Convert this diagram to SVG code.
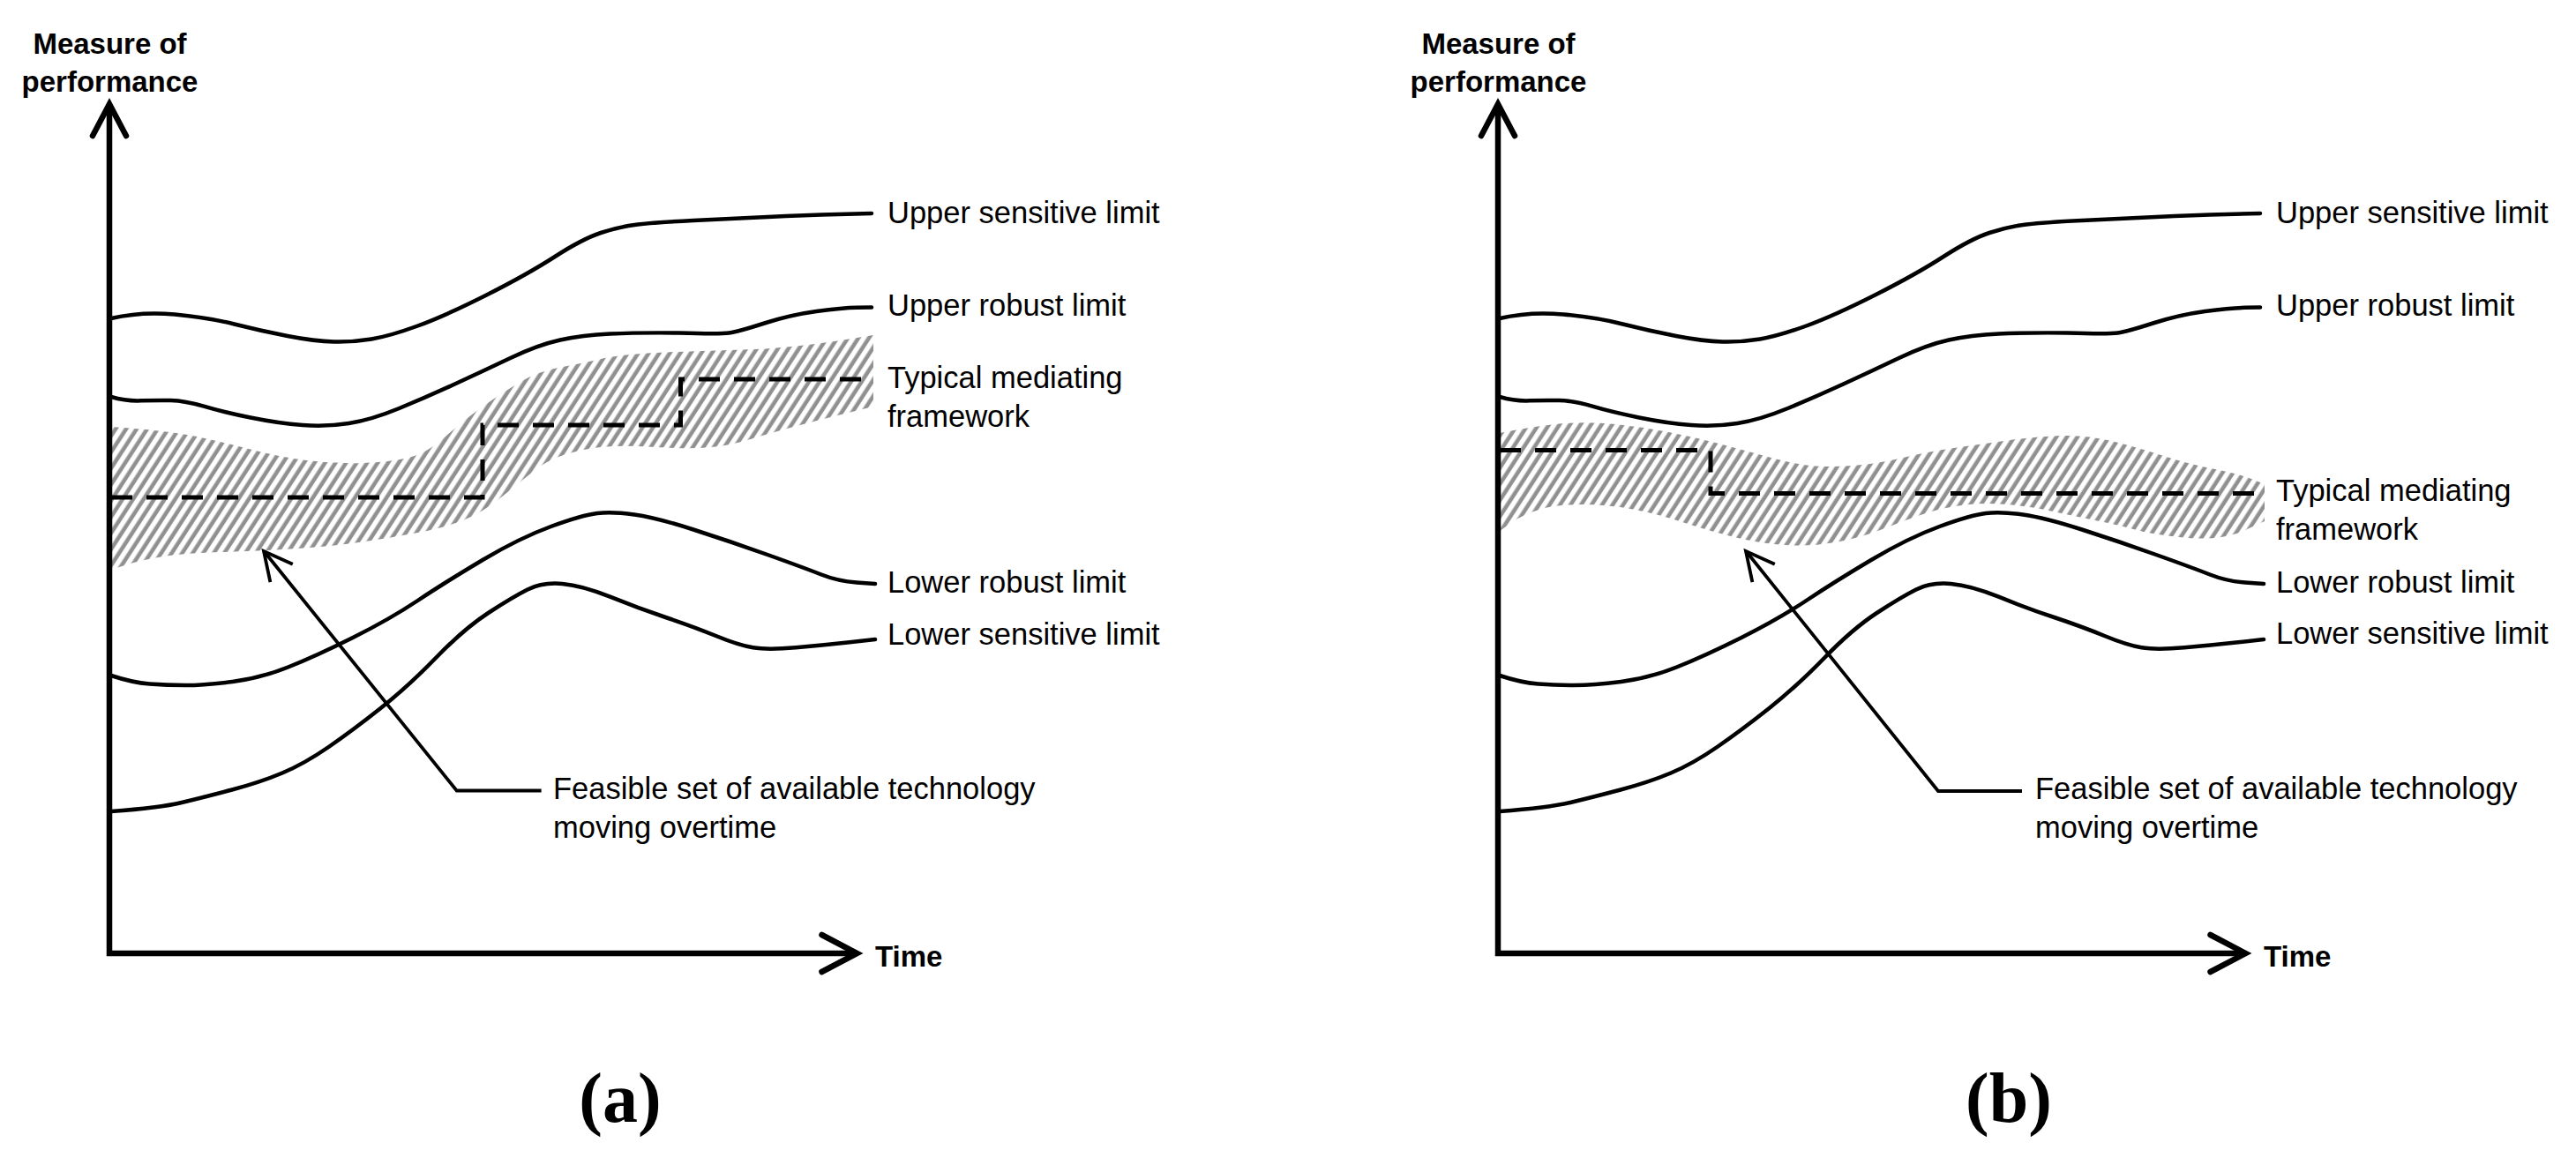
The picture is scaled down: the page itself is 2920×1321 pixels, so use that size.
<svg xmlns="http://www.w3.org/2000/svg" width="2920" height="1321" viewBox="0 0 2920 1321">
<defs>
<style>
.curve{fill:none;stroke:#000;stroke-width:4.5;stroke-linecap:round;stroke-linejoin:round}
.axis{fill:none;stroke:#000;stroke-width:6.5;stroke-linecap:round;stroke-linejoin:miter}
.dash{fill:none;stroke:#000;stroke-width:5;stroke-dasharray:24 16}
.leader{fill:none;stroke:#000;stroke-width:3.8;stroke-linejoin:miter}
.band{fill:url(#hatch);stroke:none}
.lbl{font-family:"Liberation Sans",Arial,sans-serif;font-size:34.5px;fill:#000}
.ttl{font-family:"Liberation Sans",Arial,sans-serif;font-size:33px;font-weight:bold;fill:#000}
.cap{font-family:"Liberation Serif","Times New Roman",serif;font-size:80px;font-weight:bold;fill:#000;text-anchor:middle}
</style>
<pattern id="hatch" patternUnits="userSpaceOnUse" width="10" height="10" patternTransform="rotate(33)">
<rect x="2.5" y="0" width="4.6" height="10" fill="#909090"/>
</pattern>
</defs>
<rect width="2920" height="1321" fill="#fff"/>

<!-- Panel (a) -->
<g id="panel-a">
<g id="band-a">
<path class="band" d="M126,484 Q189,488 220.5,494.5 Q252,501 284,509.5 Q316,518 347.5,522 Q379,526 410.5,525 Q442,524 463,519 Q484,514 505,495 Q526,476 547,461 Q568,446 589,433.5 Q610,421 635,416.5 Q660,412 681,407 Q702,402 744,400 Q786,398 828,397 Q870,396 902,392.5 Q934,389 962,384.5 L990,380 L990,461 L959.5,468.5 Q929,476 899.5,484 Q870,492 849,498.5 Q828,505 807,507 Q786,509 765,508 Q744,507 723,506 Q702,505 681,507 Q660,509 640,515.5 Q620,522 604.5,534.5 Q589,547 568,564 Q547,581 526,589.5 Q505,598 473.5,604 Q442,610 410.5,614.5 Q379,619 337,622 Q295,625 252.5,626 Q210,627 185,631 Q160,635 143,640.5 L126,646 Z"/>
</g>
<g id="curves-a">
<path id="upper-sensitive-a" class="curve" d="M126,361 Q160,353 198,356.5 Q236,360 265.5,367.5 Q295,375 326,381 Q357,387 378.5,387.5 Q400,388 421,384.5 Q442,381 473.5,369.5 Q505,358 551.5,334.5 Q598,311 629,291 Q660,271 681,264 Q702,257 723,254.5 Q744,252 786,250 Q828,248 870,246 Q912,244 950,243 L988,242"/>
<path id="upper-robust-a" class="curve" d="M126,450 Q143,455 160,454.3 Q177,453.7 193.5,454 Q210,454.5 231,460.7 Q252,467 284,473.5 Q316,480 343,482 Q370,484 395.5,480 Q421,476 452.5,463 Q484,450 515.5,435.5 Q547,421 578.5,406 Q610,391 635,385.5 Q660,380 691.5,378.5 Q723,377 769.5,377.5 Q816,379 826.5,377.5 Q837,376 866.5,366.5 Q896,357 925.5,353 Q955,349 971.5,348.8 L988,348.5"/>
<path id="lower-robust-a" class="curve" d="M126,766 Q150,774 169.5,775.5 Q189,777 210.5,777 Q232,777 263.5,773 Q295,769 326.5,756.5 Q358,744 400,723 Q442,702 473.5,681 Q505,660 547,635 Q589,610 624.5,597 Q660,584 677,582 Q694,580 719,583.5 Q744,587 786,600.5 Q828,614 870,629 Q912,644 931,651.5 Q950,659 971,660.5 L992,662"/>
<path id="lower-sensitive-a" class="curve" d="M126,920 Q181,916 206,910 Q231,904 263,895.5 Q295,887 320,876.5 Q345,866 372.5,847 Q400,828 431.5,803 Q463,778 494.5,745.5 Q526,713 553.5,695 Q581,677 598,668.5 Q615,660 637.5,662 Q660,664 691.5,676.7 Q723,689.5 754.5,700 Q786,710.5 811.5,721 Q837,731.5 853.5,734.3 Q870,737 902,734.3 Q934,731.5 963,728.3 L992,725"/>
</g>
<path id="framework-a" class="dash" d="M126,564 H547 V482 H771.5 V430 H990"/>
<g id="axes-a">
<path class="axis" d="M124,120 V1081 H970"/>
<path class="axis" d="M105,154 L124,118 L143,154"/>
<path class="axis" d="M931.5,1060 L971.5,1081 L931.5,1102"/>
</g>
<g id="pointer-a">
<path class="leader" d="M300,626 L517.7,896.5 H613.6"/>
<path class="leader" d="M331.8,639.7 L299,625 L306.4,660.2"/>
</g>
<g id="labels-a">
<text class="ttl" x="124.5" y="61" text-anchor="middle">Measure of</text>
<text class="ttl" x="124.5" y="104" text-anchor="middle">performance</text>
<text class="ttl" x="992" y="1096">Time</text>
<text class="lbl" x="1006" y="252.5">Upper sensitive limit</text>
<text class="lbl" x="1006" y="358">Upper robust limit</text>
<text class="lbl" x="1006" y="440">Typical mediating</text>
<text class="lbl" x="1006" y="484">framework</text>
<text class="lbl" x="1006" y="672">Lower robust limit</text>
<text class="lbl" x="1006" y="731">Lower sensitive limit</text>
<text class="lbl" x="627" y="906">Feasible set of available technology</text>
<text class="lbl" x="627" y="950">moving overtime</text>
<text class="cap" x="703" y="1272">(a)</text>
</g>
</g>

<!-- Panel (b) -->
<g id="panel-b">
<g id="band-b">
<path class="band" d="M1700,491 Q1746,482 1774.5,480 Q1803,478 1831.5,481 Q1860,484 1889,489.5 Q1918,495 1946.5,502.5 Q1975,510 2004,518 Q2033,526 2052,528 Q2071,530 2099.5,528 Q2128,526 2157,519 Q2186,512 2218,507.5 Q2250,503 2278.5,499 Q2307,495 2336,494 Q2365,493 2393.5,500 Q2422,507 2451,516.5 Q2480,526 2508.5,531.5 Q2537,537 2552,543 L2567,549 L2567,591 L2550.5,598.5 Q2537,606 2518,609 Q2499,612 2469.5,609 Q2440,606 2420,600.5 Q2400,595 2375,590 Q2350,585 2325,579.5 Q2300,574 2275,572 Q2250,570 2227.5,572.5 Q2205,575 2186,581 Q2167,587 2138,598.5 Q2109,610 2080.5,615 Q2052,620 2023,618 Q1994,616 1965.5,609 Q1937,602 1908.5,592.5 Q1880,583 1851,577.5 Q1822,572 1793.5,572 Q1765,572 1746,577.5 Q1727,583 1713.5,592.5 L1700,602 Z"/>
</g>
<g id="curves-b" transform="translate(1574,0)">
<path id="upper-sensitive-b" class="curve" d="M126,361 Q160,353 198,356.5 Q236,360 265.5,367.5 Q295,375 326,381 Q357,387 378.5,387.5 Q400,388 421,384.5 Q442,381 473.5,369.5 Q505,358 551.5,334.5 Q598,311 629,291 Q660,271 681,264 Q702,257 723,254.5 Q744,252 786,250 Q828,248 870,246 Q912,244 950,243 L988,242"/>
<path id="upper-robust-b" class="curve" d="M126,450 Q143,455 160,454.3 Q177,453.7 193.5,454 Q210,454.5 231,460.7 Q252,467 284,473.5 Q316,480 343,482 Q370,484 395.5,480 Q421,476 452.5,463 Q484,450 515.5,435.5 Q547,421 578.5,406 Q610,391 635,385.5 Q660,380 691.5,378.5 Q723,377 769.5,377.5 Q816,379 826.5,377.5 Q837,376 866.5,366.5 Q896,357 925.5,353 Q955,349 971.5,348.8 L988,348.5"/>
<path id="lower-robust-b" class="curve" d="M126,766 Q150,774 169.5,775.5 Q189,777 210.5,777 Q232,777 263.5,773 Q295,769 326.5,756.5 Q358,744 400,723 Q442,702 473.5,681 Q505,660 547,635 Q589,610 624.5,597 Q660,584 677,582 Q694,580 719,583.5 Q744,587 786,600.5 Q828,614 870,629 Q912,644 931,651.5 Q950,659 971,660.5 L992,662"/>
<path id="lower-sensitive-b" class="curve" d="M126,920 Q181,916 206,910 Q231,904 263,895.5 Q295,887 320,876.5 Q345,866 372.5,847 Q400,828 431.5,803 Q463,778 494.5,745.5 Q526,713 553.5,695 Q581,677 598,668.5 Q615,660 637.5,662 Q660,664 691.5,676.7 Q723,689.5 754.5,700 Q786,710.5 811.5,721 Q837,731.5 853.5,734.3 Q870,737 902,734.3 Q934,731.5 963,728.3 L992,725"/>
</g>
<path id="framework-b" class="dash" d="M1700,510.5 H1939 V559.5 H2560"/>
<g id="axes-b" transform="translate(1574,0)">
<path class="axis" d="M124,120 V1081 H970"/>
<path class="axis" d="M105,154 L124,118 L143,154"/>
<path class="axis" d="M931.5,1060 L971.5,1081 L931.5,1102"/>
</g>
<g id="pointer-b">
<path class="leader" d="M1980,626 L2197,897 H2292"/>
<path class="leader" d="M2011.8,639.7 L1979,625 L1986.4,660.2"/>
</g>
<g id="labels-b">
<text class="ttl" x="1698.5" y="61" text-anchor="middle">Measure of</text>
<text class="ttl" x="1698.5" y="104" text-anchor="middle">performance</text>
<text class="ttl" x="2566" y="1096">Time</text>
<text class="lbl" x="2580" y="252.5">Upper sensitive limit</text>
<text class="lbl" x="2580" y="358">Upper robust limit</text>
<text class="lbl" x="2580" y="568">Typical mediating</text>
<text class="lbl" x="2580" y="612">framework</text>
<text class="lbl" x="2580" y="672">Lower robust limit</text>
<text class="lbl" x="2580" y="730">Lower sensitive limit</text>
<text class="lbl" x="2307" y="906">Feasible set of available technology</text>
<text class="lbl" x="2307" y="950">moving overtime</text>
<text class="cap" x="2277" y="1272">(b)</text>
</g>
</g>
</svg>
